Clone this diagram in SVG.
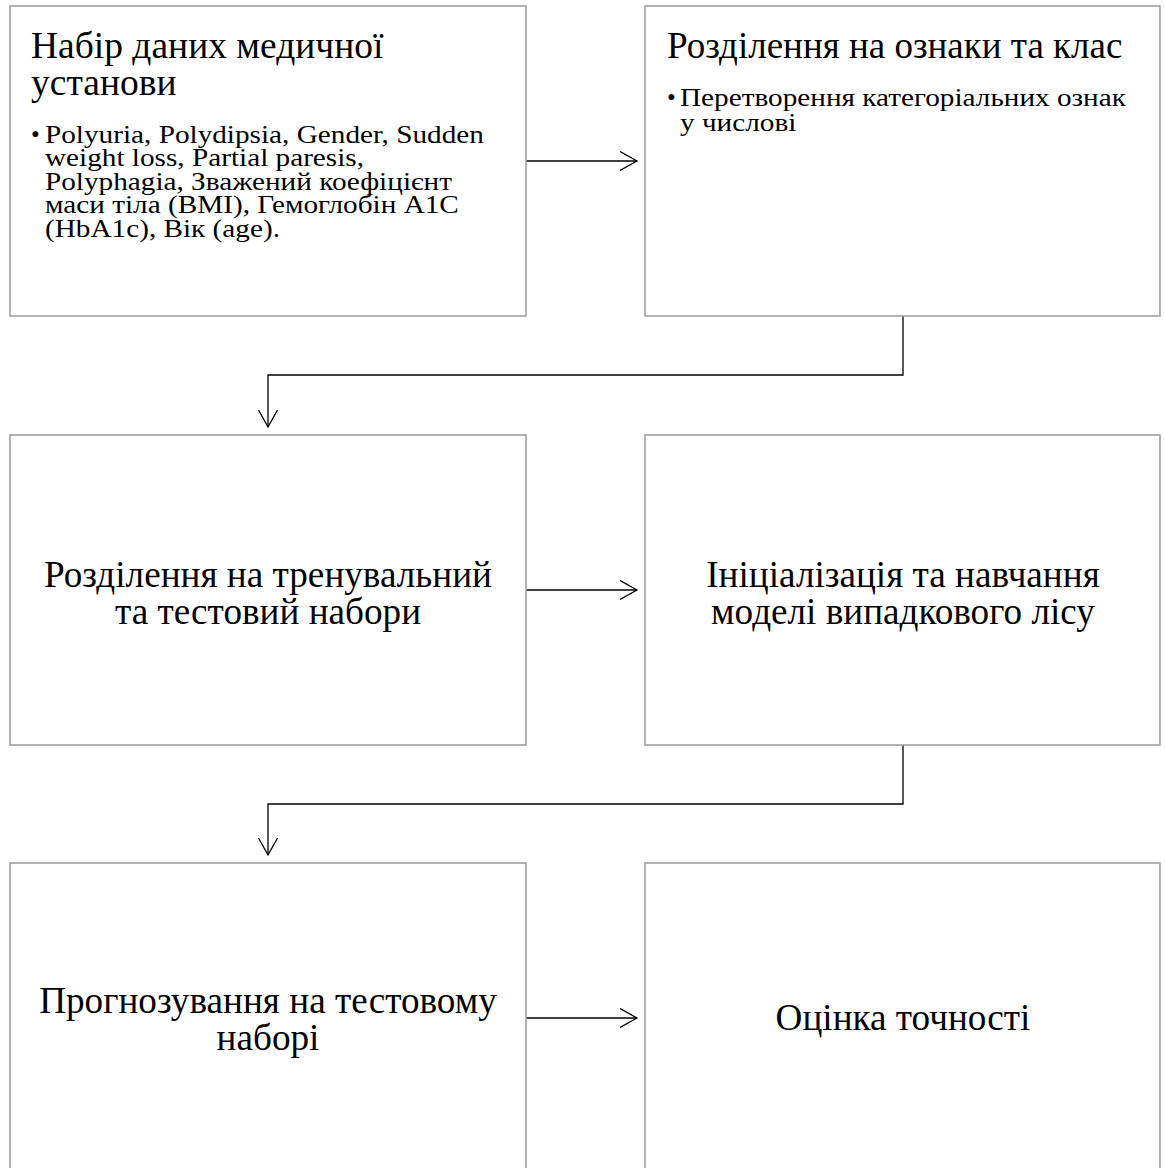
<svg xmlns="http://www.w3.org/2000/svg" width="1165" height="1168" viewBox="0 0 1165 1168">
  <defs>
    <marker id="chevron" markerUnits="userSpaceOnUse" markerWidth="20" markerHeight="22" refX="17" refY="10" orient="auto">
      <path d="M0,0.5 L17,10 L0,19.5" fill="none" stroke="#000" stroke-width="1.3"/>
    </marker>
  </defs>
  <style>
    .box { fill: #fff; stroke: #a0a0a0; stroke-width: 1.6; }
    .link { fill: none; stroke: #000; stroke-width: 1.3; marker-end: url(#chevron); }
    text { font-family: "Liberation Serif", "Times New Roman", serif; fill: #000; }
    .title { font-size: 37.5px; }
    .bullet { font-size: 25px; }
    .center { font-size: 37.2px; text-anchor: middle; }
  </style>
  <rect width="1165" height="1168" fill="#fff"/>

  <!-- connectors -->
  <g id="connectors">
    <path class="link" d="M526,161 H637"/>
    <path class="link" d="M903,316 V375 H268 V427"/>
    <path class="link" d="M526,590 H637"/>
    <path class="link" d="M903,745 V804 H268 V855"/>
    <path class="link" d="M526,1018 H637"/>
  </g>

  <g id="dataset">
    <rect class="box" x="10" y="6" width="516" height="310"/>
    <text class="title" x="31" y="58">Набір даних медичної</text>
    <text class="title" x="31" y="95">установи</text>
    <text class="bullet" x="31" y="143">•</text>
    <!-- sub-items are set wide: 25px type, stretched horizontally -->
    <g transform="translate(45 0) scale(1.17 1)">
      <text class="bullet" x="0" y="143">Polyuria, Polydipsia, Gender, Sudden</text>
      <text class="bullet" x="0" y="166.5">weight loss, Partial paresis,</text>
      <text class="bullet" x="0" y="190">Polyphagia, Зважений коефіцієнт</text>
      <text class="bullet" x="0" y="213.5">маси тіла (BMI), Гемоглобін A1C</text>
      <text class="bullet" x="0" y="237">(HbA1c), Вік (age).</text>
    </g>
  </g>

  <g id="split-features">
    <rect class="box" x="645" y="6" width="515" height="310"/>
    <text class="title" x="667" y="58" style="font-size:37px">Розділення на ознаки та клас</text>
    <text class="bullet" x="667" y="106">•</text>
    <g transform="translate(680 0) scale(1.17 1)">
      <text class="bullet" x="0" y="106">Перетворення категоріальних ознак</text>
      <text class="bullet" x="0" y="131">у числові</text>
    </g>
  </g>

  <g id="split-train-test">
    <rect class="box" x="10" y="435" width="516" height="310"/>
    <text class="center" x="268" y="587">Розділення на тренувальний</text>
    <text class="center" x="268" y="624">та тестовий набори</text>
  </g>

  <g id="train-forest">
    <rect class="box" x="645" y="435" width="515" height="310"/>
    <text class="center" x="903" y="587">Ініціалізація та навчання</text>
    <text class="center" x="903" y="624">моделі випадкового лісу</text>
  </g>

  <g id="predict">
    <rect class="box" x="10" y="863" width="516" height="310"/>
    <text class="center" x="268" y="1013">Прогнозування на тестовому</text>
    <text class="center" x="268" y="1050">наборі</text>
  </g>

  <g id="accuracy">
    <rect class="box" x="645" y="863" width="515" height="310"/>
    <text class="center" x="903" y="1030">Оцінка точності</text>
  </g>
</svg>
